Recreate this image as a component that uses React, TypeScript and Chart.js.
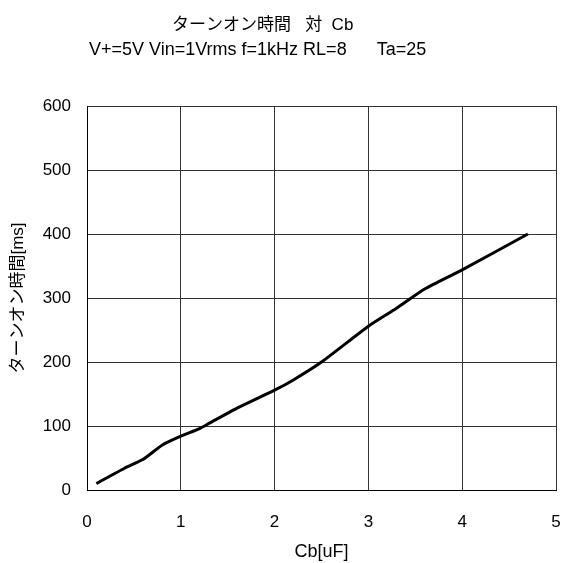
import React, { useEffect, useRef } from "react";
import { Chart, registerables } from "chart.js";

Chart.register(...registerables);

const cbValues = [0.1, 0.4, 0.6, 0.8, 1.0, 1.2, 1.3, 1.6, 2.0, 2.2, 2.5, 3.0, 3.3, 3.6, 4.0, 4.7];
const turnOnTimes = [10, 34, 48, 70, 84, 96, 104, 128, 156, 172, 200, 256, 284, 314, 344, 400];
const titleLines = ["ターンオン時間   対  Cb", "V+=5V Vin=1Vrms f=1kHz RL=8      Ta=25"];
const xTitle = "Cb[uF]";
const yTitle = "ターンオン時間[ms]";

const FONT = "'Liberation Sans', 'Noto Sans CJK JP', Arial, sans-serif";

const titlePlugin = {
  id: "customTitle",
  afterDraw(chart: any) {
    const ctx = chart.ctx;
    ctx.save();
    ctx.fillStyle = "#000";
    ctx.textAlign = "left";
    ctx.textBaseline = "alphabetic";
    ctx.font = `17px ${FONT}`;
    ctx.fillText(titleLines[0], 172, 30);
    ctx.font = `18px ${FONT}`;
    ctx.fillText(titleLines[1], 89, 55);
    ctx.restore();
  },
};

export default function App() {
  const ref = useRef<HTMLCanvasElement | null>(null);
  useEffect(() => {
    if (!ref.current) return;
    const data = cbValues.map((x, i) => ({ x, y: turnOnTimes[i] }));
    const chart = new Chart(ref.current, {
      type: "line",
      data: {
        datasets: [
          {
            data,
            borderColor: "#000",
            borderWidth: 3,
            pointRadius: 0,
            tension: 0.2,
            fill: false,
          },
        ],
      },
      options: {
        responsive: false,
        animation: false,
        layout: { padding: { top: 106, right: 5, left: 0, bottom: 0 } },
        plugins: {
          legend: { display: false },
          title: { display: false },
          tooltip: { enabled: false },
        },
        scales: {
          x: {
            type: "linear",
            min: 0,
            max: 5,
            ticks: { stepSize: 1, color: "#000", font: { family: FONT, size: 17 }, padding: 22 },
            grid: { color: "#333", lineWidth: 1, drawTicks: false },
            border: { color: "#000", width: 1 },
            title: {
              display: true,
              text: xTitle,
              color: "#000",
              font: { family: FONT, size: 18 },
              padding: { top: 0, bottom: 0 },
            },
            afterFit(scale: any) {
              scale.height = 73;
              scale.paddingLeft = 0;
              scale.paddingRight = 0;
            },
          },
          y: {
            type: "linear",
            min: 0,
            max: 600,
            ticks: { stepSize: 100, color: "#000", font: { family: FONT, size: 17 }, padding: 16 },
            grid: { color: "#333", lineWidth: 1, drawTicks: false },
            border: { color: "#000", width: 1 },
            title: {
              display: true,
              text: yTitle,
              color: "#000",
              font: { family: FONT, size: 17 },
              padding: { top: 8, bottom: 0 },
            },
            afterFit(scale: any) {
              scale.width = 87;
              scale.paddingTop = 0;
              scale.paddingBottom = 0;
            },
          },
        },
      },
      plugins: [titlePlugin],
    });
    return () => chart.destroy();
  }, []);
  return (
    <div style={{ position: "absolute", left: 0, top: 0, width: 561, height: 563, background: "#fff" }}>
      <canvas ref={ref} width={561} height={563} style={{ display: "block" }} />
    </div>
  );
}
